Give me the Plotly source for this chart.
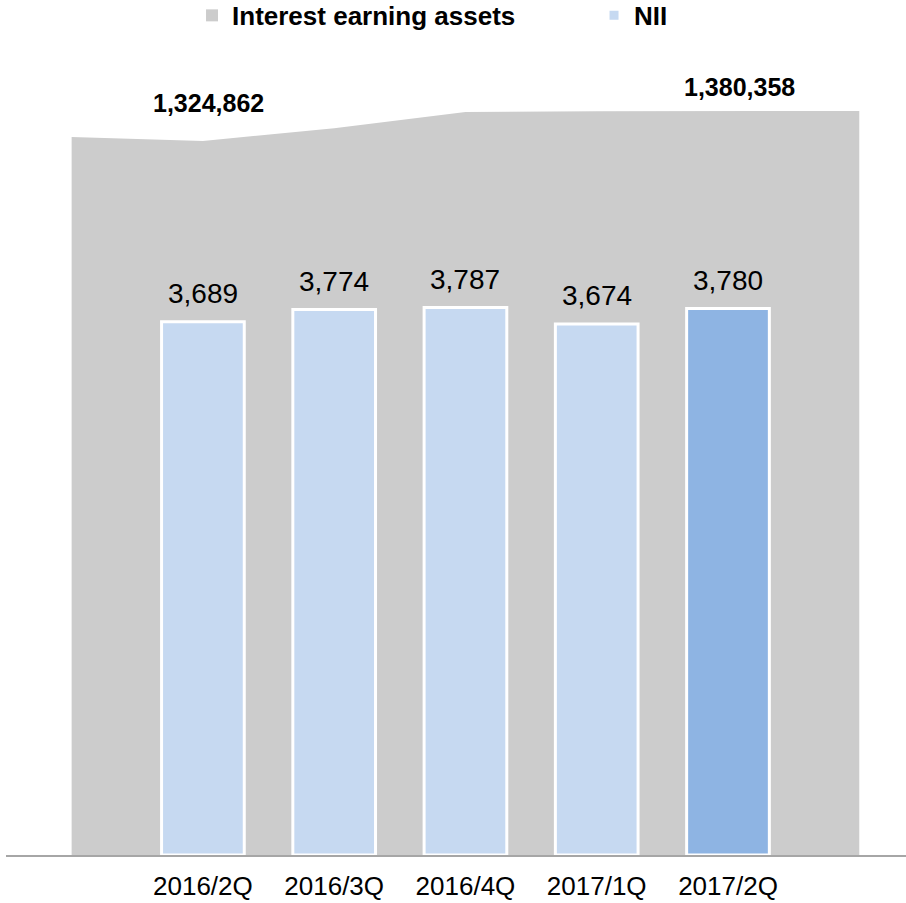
import plotly.graph_objects as go

# ---- data ----
categories = ["2016/2Q", "2016/3Q", "2016/4Q", "2017/1Q", "2017/2Q"]
nii_values = [3689, 3774, 3787, 3674, 3780]
# interest earning assets: area drawn on a wider, 7-point secondary category scale
assets_positions = [-1, 0, 1, 2, 3, 4, 5]
assets_values = [1332300, 1324862, 1348500, 1378700, 1380000, 1380358, 1380600]
assets_label_idx = [1, 5]  # labelled points

bar_positions = list(range(len(categories)))
bar_colors = ["#C6D9F1"] * 4 + ["#8EB4E3"]

FONT = "Liberation Sans, Arial, sans-serif"
GRAY = "#CCCCCC"

fig = go.Figure()

# area (legend entry supplied by a square-symbol proxy below)
fig.add_trace(go.Scatter(
    x=assets_positions, y=assets_values,
    name="Interest earning assets",
    mode="lines", fill="tozeroy",
    line=dict(width=0, color=GRAY),
    fillcolor=GRAY, showlegend=False,
    legendgroup="assets",
    yaxis="y", hoverinfo="skip",
))
fig.add_trace(go.Bar(
    x=[None], y=[None], name="Interest earning assets",
    marker=dict(color=GRAY, line=dict(width=0)),
    legendgroup="assets", yaxis="y",
))

fig.add_trace(go.Bar(
    x=bar_positions, y=nii_values,
    name="NII",
    width=0.63,
    marker=dict(color=bar_colors, line=dict(color="white", width=3)),
    yaxis="y2", hoverinfo="x+y",
))

for xp, v in zip(bar_positions, nii_values):
    fig.add_annotation(
        x=xp, y=v, xref="x", yref="y2", text=f"{v:,}", showarrow=False,
        yanchor="middle", yshift=28,
        font=dict(size=28, color="black", family=FONT),
    )

shifts = {1: (6, 38), 5: (11, 24)}
for i in assets_label_idx:
    dx, dy = shifts[i]
    fig.add_annotation(
        x=assets_positions[i], y=assets_values[i], xref="x", yref="y",
        text=f"<b>{assets_values[i]:,}</b>", showarrow=False,
        xshift=dx, yshift=dy,
        font=dict(size=25, color="black", family=FONT),
    )

fig.update_layout(
    width=906, height=903,
    margin=dict(l=6, r=0, t=60, b=48, autoexpand=False),
    paper_bgcolor="white", plot_bgcolor="white",
    showlegend=True,
    barmode="overlay",
    legend=dict(
        orientation="h", x=0.2067, xanchor="left", y=1.0856, yanchor="top",
        font=dict(size=26, color="black", family=FONT, weight="bold"),
        entrywidth=357,
        bgcolor="rgba(0,0,0,0)",
    ),
    xaxis=dict(
        range=[-1.5, 5.356],
        tickmode="array", tickvals=bar_positions, ticktext=categories,
        tickfont=dict(size=26, color="black", family=FONT),
        showline=True, linecolor="#A6A6A6", linewidth=2,
        showgrid=False, zeroline=False, ticks="",
        ticklabelstandoff=7,
    ),
    yaxis=dict(range=[0, 1475200], visible=False, showgrid=False, zeroline=False),
    yaxis2=dict(range=[0, 5500], overlaying="y", visible=False,
                showgrid=False, zeroline=False),
)

fig.write_html("out.html")
